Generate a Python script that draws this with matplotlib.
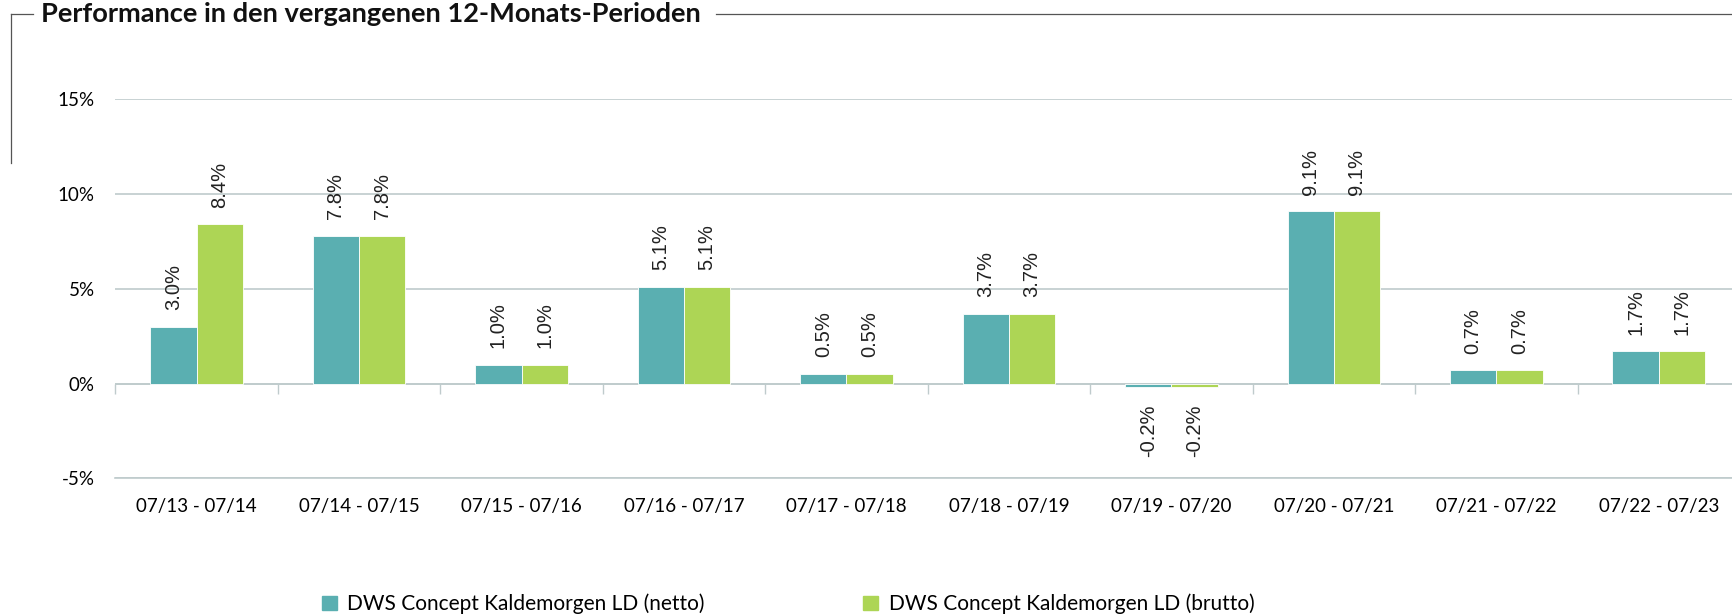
import numpy as np
import matplotlib
matplotlib.use("Agg")
import matplotlib.pyplot as plt
from matplotlib.lines import Line2D

# data
periods = ["07/13 - 07/14", "07/14 - 07/15", "07/15 - 07/16", "07/16 - 07/17", "07/17 - 07/18",
           "07/18 - 07/19", "07/19 - 07/20", "07/20 - 07/21", "07/21 - 07/22", "07/22 - 07/23"]
netto = [3.0, 7.8, 1.0, 5.1, 0.5, 3.7, -0.2, 9.1, 0.7, 1.7]
brutto = [8.4, 7.8, 1.0, 5.1, 0.5, 3.7, -0.2, 9.1, 0.7, 1.7]
series_names = ["DWS Concept Kaldemorgen LD (netto)", "DWS Concept Kaldemorgen LD (brutto)"]
yticks = [-5, 0, 5, 10, 15]

teal = "#5AAFB1"
green = "#ADD555"
grid_col = "#BFCBCC"
txt_font = ["Lato", "DejaVu Sans"]

fig = plt.figure(figsize=(17.32, 6.16), dpi=100)
ax = fig.add_axes([0.0666, 0.2235, 0.938, 0.6151])

x = np.arange(len(periods))
w = 0.285
b1 = ax.bar(x - w / 2, netto, w, color=teal, edgecolor="white", linewidth=0.6, zorder=3)
b2 = ax.bar(x + w / 2, brutto, w, color=green, edgecolor="white", linewidth=0.6, zorder=3)

for bars, vals in [(b1, netto), (b2, brutto)]:
    for r, v in zip(bars, vals):
        cx = r.get_x() + r.get_width() / 2
        if v >= 0:
            ax.annotate(f"{v:.1f}%", (cx, v), xytext=(0, 12), textcoords="offset points",
                        rotation=90, ha="center", va="bottom", fontsize=14.5,
                        family="Liberation Sans", color="#222222", zorder=4)
        else:
            ax.annotate(f"{v:.1f}%", (cx, v), xytext=(0, -12), textcoords="offset points",
                        rotation=90, ha="center", va="top", fontsize=14.5,
                        family="Liberation Sans", color="#222222", zorder=4)

ax.set_xlim(-0.5, len(periods) - 0.5)
ax.set_ylim(yticks[0], yticks[-1])
ax.set_yticks(yticks)
ax.set_yticklabels([f"{t}%" for t in yticks], family=txt_font, fontsize=13.5)
ax.yaxis.grid(True, color=grid_col, linewidth=1.2, zorder=0)
ax.set_xticks(x)
ax.set_xticklabels(periods, family=txt_font, fontsize=13.5)
ax.tick_params(axis="x", length=0, pad=14)
ax.tick_params(axis="y", length=0, pad=15)
for s in ["top", "right", "left"]:
    ax.spines[s].set_visible(False)
ax.spines["bottom"].set_color(grid_col)
ax.spines["bottom"].set_linewidth(1.2)

# zero line with category separators
ax.axhline(0, color=grid_col, linewidth=1.2, zorder=2)
sec = ax.secondary_xaxis((0 - yticks[0]) / (yticks[-1] - yticks[0]))
sec.set_xticks(np.arange(len(periods) + 1) - 0.5)
sec.set_xticklabels([])
sec.tick_params(axis="x", length=7, width=1.0, color=grid_col)
sec.spines["bottom"].set_visible(False)

# frame + title
ty = 1 - 14 / 616
fig.add_artist(Line2D([11 / 1732, 33 / 1732], [ty, ty], color="#555555", lw=0.9))
fig.add_artist(Line2D([716 / 1732, 1.0], [ty, ty], color="#555555", lw=0.9))
fig.add_artist(Line2D([11 / 1732] * 2, [ty, 1 - 163 / 616], color="#555555", lw=0.9))
fig.text(41 / 1732, ty, "Performance in den vergangenen 12-Monats-Perioden",
         family=txt_font, fontweight="bold", fontsize=19.6, va="center", ha="left", color="#111111")

# legend
handles = [plt.Rectangle((0, 0), 1, 1, color=teal), plt.Rectangle((0, 0), 1, 1, color=green)]
leg = fig.legend(handles, series_names, loc="center left", bbox_to_anchor=(322 / 1732, 1 - 604 / 616),
                 ncol=2, frameon=False, prop={"family": txt_font, "size": 15}, handlelength=0.72,
                 handleheight=0.72, handletextpad=0.5, columnspacing=7.6, borderpad=0,
                 borderaxespad=0)

fig.savefig("out.png", dpi=100)
